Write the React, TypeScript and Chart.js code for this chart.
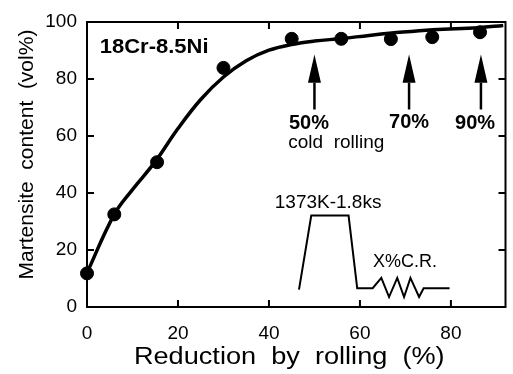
import React, { useEffect, useRef } from "react";
import { Chart, registerables } from "chart.js";
Chart.register(...registerables);

// Measured data points
const reductionPts = [0, 6, 15.4, 30, 45, 55.9, 66.8, 75.9, 86.4];
const martensitePts = [11.8, 32.5, 50.8, 83.9, 94.1, 94.1, 94, 94.7, 96.4];

// Fitted curve (hand-read)
const curveX = [0, 6, 10, 15, 20, 25, 30, 35, 40, 45, 50, 56, 62, 67, 76, 86, 91.5];
const curveY = [12, 32.5, 41.2, 51, 62.6, 72.8, 80.7, 86.4, 90.1, 92.1, 93.3, 94.2, 95.3, 96.1, 97.3, 98, 98.8];

// Inset heat-treatment schematic (drawn in data space)
const insetX = [46.6, 49.3, 57.5, 59.4, 62.8, 64.7, 66.4, 68.2, 69.7, 71.1, 73.0, 74.0, 79.7];
const insetY = [6.1, 32.1, 32.1, 6.6, 6.6, 10.2, 3.5, 10.2, 3.5, 10.2, 3.5, 6.6, 6.6];

// Arrows marking cold-rolling levels
const arrowX = [50, 70.8, 86.6];
const arrowTipY = 88.6;
const arrowBaseY = 78.7;
const arrowTailY = 69.3;

// Axis ticks
const xTicks = [0, 20, 40, 60, 80];
const yTicks = [0, 20, 40, 60, 80, 100];

// Annotation texts
const labelTexts = ["18Cr-8.5Ni", "50%", "70%", "90%", "cold  rolling", "1373K-1.8ks", "X%C.R."];
const labelX = [2.8, 48.8, 70.8, 85.3, 54.8, 53.0, 69.9];
const labelY = [91.2, 64.5, 64.9, 64.5, 57.5, 36.6, 15.8];

const FONT = "'Liberation Sans', Arial, Helvetica, sans-serif";
const labelStyles = [
  { font: `bold 20px ${FONT}`, sx: 1.1, align: "left" },
  { font: `bold 20px ${FONT}`, sx: 1.0, align: "center" },
  { font: `bold 20px ${FONT}`, sx: 1.0, align: "center" },
  { font: `bold 20px ${FONT}`, sx: 1.0, align: "center" },
  { font: `19px ${FONT}`, sx: 1.0, align: "center" },
  { font: `19px ${FONT}`, sx: 1.0, align: "center" },
  { font: `18px ${FONT}`, sx: 1.0, align: "center" },
];

const xTitle = "Reduction  by  rolling  (%)";
const yTitle = "Martensite  content  (vol%)";

function drawText(ctx: CanvasRenderingContext2D, text: string, px: number, py: number, font: string, sx: number, align: CanvasTextAlign, rot = 0) {
  ctx.save();
  ctx.translate(px, py);
  if (rot) ctx.rotate(rot);
  ctx.scale(sx, 1);
  ctx.font = font;
  ctx.textAlign = align;
  ctx.textBaseline = "middle";
  ctx.fillStyle = "#000";
  ctx.fillText(text, 0, 0);
  ctx.restore();
}

const decorPlugin = {
  id: "decor",
  afterDatasetsDraw(chart: any) {
    const ctx: CanvasRenderingContext2D = chart.ctx;
    const xs = chart.scales.x;
    const ys = chart.scales.y;
    const a = chart.chartArea;
    ctx.save();
    ctx.strokeStyle = "#000";
    ctx.fillStyle = "#000";
    // frame
    ctx.lineWidth = 2;
    ctx.strokeRect(a.left, a.top, a.right - a.left, a.bottom - a.top);
    // inward ticks
    const tl = 7;
    ctx.beginPath();
    xTicks.forEach((v) => {
      if (v === 0) return;
      const px = xs.getPixelForValue(v);
      ctx.moveTo(px, a.bottom);
      ctx.lineTo(px, a.bottom - tl);
      ctx.moveTo(px, a.top);
      ctx.lineTo(px, a.top + tl);
    });
    yTicks.forEach((v) => {
      if (v === 0 || v === 100) return;
      const py = ys.getPixelForValue(v);
      ctx.moveTo(a.left, py);
      ctx.lineTo(a.left + tl, py);
      ctx.moveTo(a.right, py);
      ctx.lineTo(a.right - tl, py);
    });
    ctx.stroke();
    // arrows
    arrowX.forEach((v) => {
      const px = xs.getPixelForValue(v);
      const tip = ys.getPixelForValue(arrowTipY);
      const base = ys.getPixelForValue(arrowBaseY);
      const tail = ys.getPixelForValue(arrowTailY);
      ctx.lineWidth = 2.5;
      ctx.beginPath();
      ctx.moveTo(px, base);
      ctx.lineTo(px, tail);
      ctx.stroke();
      ctx.beginPath();
      ctx.moveTo(px, tip);
      ctx.lineTo(px - 6.5, base);
      ctx.lineTo(px + 6.5, base);
      ctx.closePath();
      ctx.fill();
    });
    ctx.restore();
    // annotation labels
    labelTexts.forEach((t, i) => {
      const st = labelStyles[i];
      drawText(ctx, t, xs.getPixelForValue(labelX[i]), ys.getPixelForValue(labelY[i]), st.font, st.sx, st.align as CanvasTextAlign);
    });
    // axis titles
    drawText(ctx, xTitle, (a.left + a.right) / 2 - 7, a.bottom + 51, `23px ${FONT}`, 1.18, "center");
    drawText(ctx, yTitle, a.left - 59.5, (a.top + a.bottom) / 2 - 10, `21px ${FONT}`, 1.0, "center", -Math.PI / 2);
  },
};

export default function App() {
  const ref = useRef<HTMLCanvasElement>(null);
  useEffect(() => {
    if (!ref.current) return;
    const chart = new Chart(ref.current, {
      type: "scatter",
      data: {
        datasets: [
          {
            label: "curve",
            data: curveX.map((x, i) => ({ x, y: curveY[i] })),
            showLine: true,
            borderColor: "#000",
            borderWidth: 3.5,
            pointRadius: 0,
            tension: 0.4,
            fill: false,
          } as any,
          {
            label: "measured",
            data: reductionPts.map((x, i) => ({ x, y: martensitePts[i] })),
            backgroundColor: "#000",
            borderColor: "#000",
            pointRadius: 6.5,
            showLine: false,
            clip: false,
          } as any,
          {
            label: "inset",
            data: insetX.map((x, i) => ({ x, y: insetY[i] })),
            showLine: true,
            borderColor: "#000",
            borderWidth: 2,
            pointRadius: 0,
            tension: 0,
            fill: false,
          } as any,
        ],
      },
      options: {
        animation: false,
        responsive: false,
        events: [],
        layout: { padding: { left: 0, top: 22, right: 3, bottom: 0 } },
        plugins: { legend: { display: false }, tooltip: { enabled: false }, title: { display: false } },
        scales: {
          x: {
            type: "linear",
            min: 0,
            max: 92,
            afterFit: (s: any) => { s.height = 67; },
            afterBuildTicks: (s: any) => { s.ticks = xTicks.map((v) => ({ value: v })); },
            grid: { display: false, drawTicks: false },
            border: { display: false },
            ticks: { padding: 15, color: "#000", font: { family: FONT, size: 19 } },
          },
          y: {
            type: "linear",
            min: 0,
            max: 100,
            afterFit: (s: any) => { s.width = 87; },
            afterBuildTicks: (s: any) => { s.ticks = yTicks.map((v) => ({ value: v })); },
            grid: { display: false, drawTicks: false },
            border: { display: false },
            ticks: { padding: 10, color: "#000", font: { family: FONT, size: 19 } },
          },
        },
      },
      plugins: [decorPlugin],
    } as any);
    return () => chart.destroy();
  }, []);
  return (
    <div style={{ position: "fixed", left: 0, top: 0, width: 513, height: 374, background: "#fff" }}>
      <canvas ref={ref} width={513} height={374} style={{ width: 513, height: 374 }} />
    </div>
  );
}
